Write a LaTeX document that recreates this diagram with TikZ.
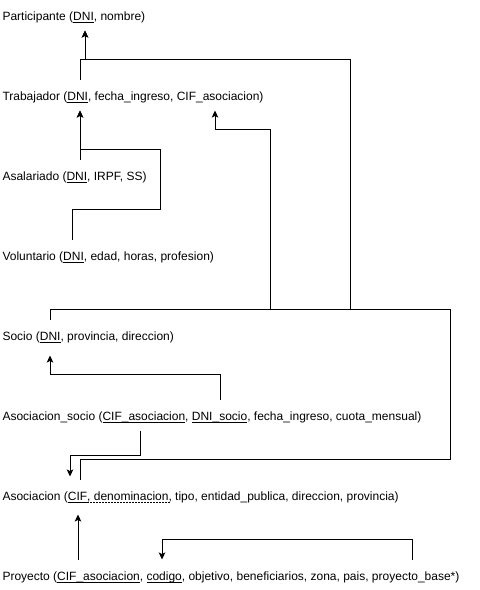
\documentclass[tikz,border=0pt]{standalone}
\usepackage{fontspec}
\setmainfont{Liberation Sans}
\usetikzlibrary{arrows.meta}

\newcommand{\clave}[1]{\setbox0\hbox{#1}\rlap{\rule[-2.5pt]{\wd0}{0.8pt}}\box0\relax}
\newcommand{\clavealt}[1]{\setbox0\hbox{#1}\rlap{\hbox to \wd0{\leaders\hbox to 3pt{\rule[-2.5pt]{1.5pt}{0.8pt}\hfil}\hfill}}\box0\relax}

\begin{document}
\begin{tikzpicture}[x=1pt, y=-1pt, line width=1pt,
  tabla/.style={anchor=base west, inner xsep=0pt, inner ysep=8pt, text height=12pt, text depth=2pt, font=\fontsize{12}{14}\selectfont},
  >={Stealth[length=7pt,width=6.5pt,inset=1.5pt]}]
\useasboundingbox (0,0) rectangle (480,590);

\node[tabla] (participante) at (2,20) {Participante (\clave{DNI}, nombre)};
\node[tabla] (trabajador) at (2,100) {Trabajador (\clave{DNI}, fecha\_ingreso, CIF\_asociacion)};
\node[tabla] (asalariado) at (2,180) {Asalariado (\clave{DNI}, IRPF, SS)};
\node[tabla] (voluntario) at (2,260) {Voluntario (\clave{DNI}, edad, horas, profesion)};
\node[tabla] (socio) at (2,340) {Socio (\clave{DNI}, provincia, direccion)};
\node[tabla] (asocsocio) at (2,420) {Asociacion\_socio (\clave{CIF\_asociacion}, \clave{DNI\_socio}, fecha\_ingreso, cuota\_mensual)};
\node[tabla] (asociacion) at (2,500) {Asociacion (\clave{CIF}\clavealt{, denominacion,} tipo, entidad\_publica, direccion, provincia)};
\node[tabla] (proyecto) at (2,580) {Proyecto (\clave{CIF\_asociacion}, \clave{codigo}, objetivo, beneficiarios, zona, pais, proyecto\_base*)};

% jerarquia de participantes
\draw[->] ([xshift=78pt]trabajador.north west) -- ++(0,-20) -| ([xshift=83pt]participante.south west);
\draw[->] ([xshift=78pt]asalariado.north west) -- ([xshift=78pt]trabajador.south west);
\draw[->] ([xshift=70pt]voluntario.north west) -- ++(0,-30) -| ++(88,-60) -| ([xshift=78pt]trabajador.south west);

% socio
\draw[->] ([xshift=48pt]socio.north west) -- ++(0,-10) -- ++(300,0) -- ++(0,-250) -| ([xshift=83pt]participante.south west);
\draw[->] ([xshift=48pt]socio.north west) -- ++(0,-10) -| ++(220,-180) -| ([xshift=213pt]trabajador.south west);
\draw ([xshift=48pt]socio.north west) -- ++(0,-10) -| ++(400,150) -| ([xshift=78pt]asociacion.north west);

% asociacion_socio
\draw[->] ([xshift=218pt]asocsocio.north west) -- ++(0,-25) -| ([xshift=48pt,yshift=-5pt]socio.south west);
\draw[->] ([xshift=138pt]asocsocio.south west) -- ++(0,25) -| ([xshift=68pt,yshift=3pt]asociacion.north west);

% proyecto
\draw[->] ([xshift=76pt]proyecto.north west) -- ([xshift=76pt,yshift=-4pt]asociacion.south west);
\draw[->] ([xshift=410pt]proyecto.north west) -- ++(0,-20) -| ([xshift=160pt]proyecto.north west);
\end{tikzpicture}
\end{document}
